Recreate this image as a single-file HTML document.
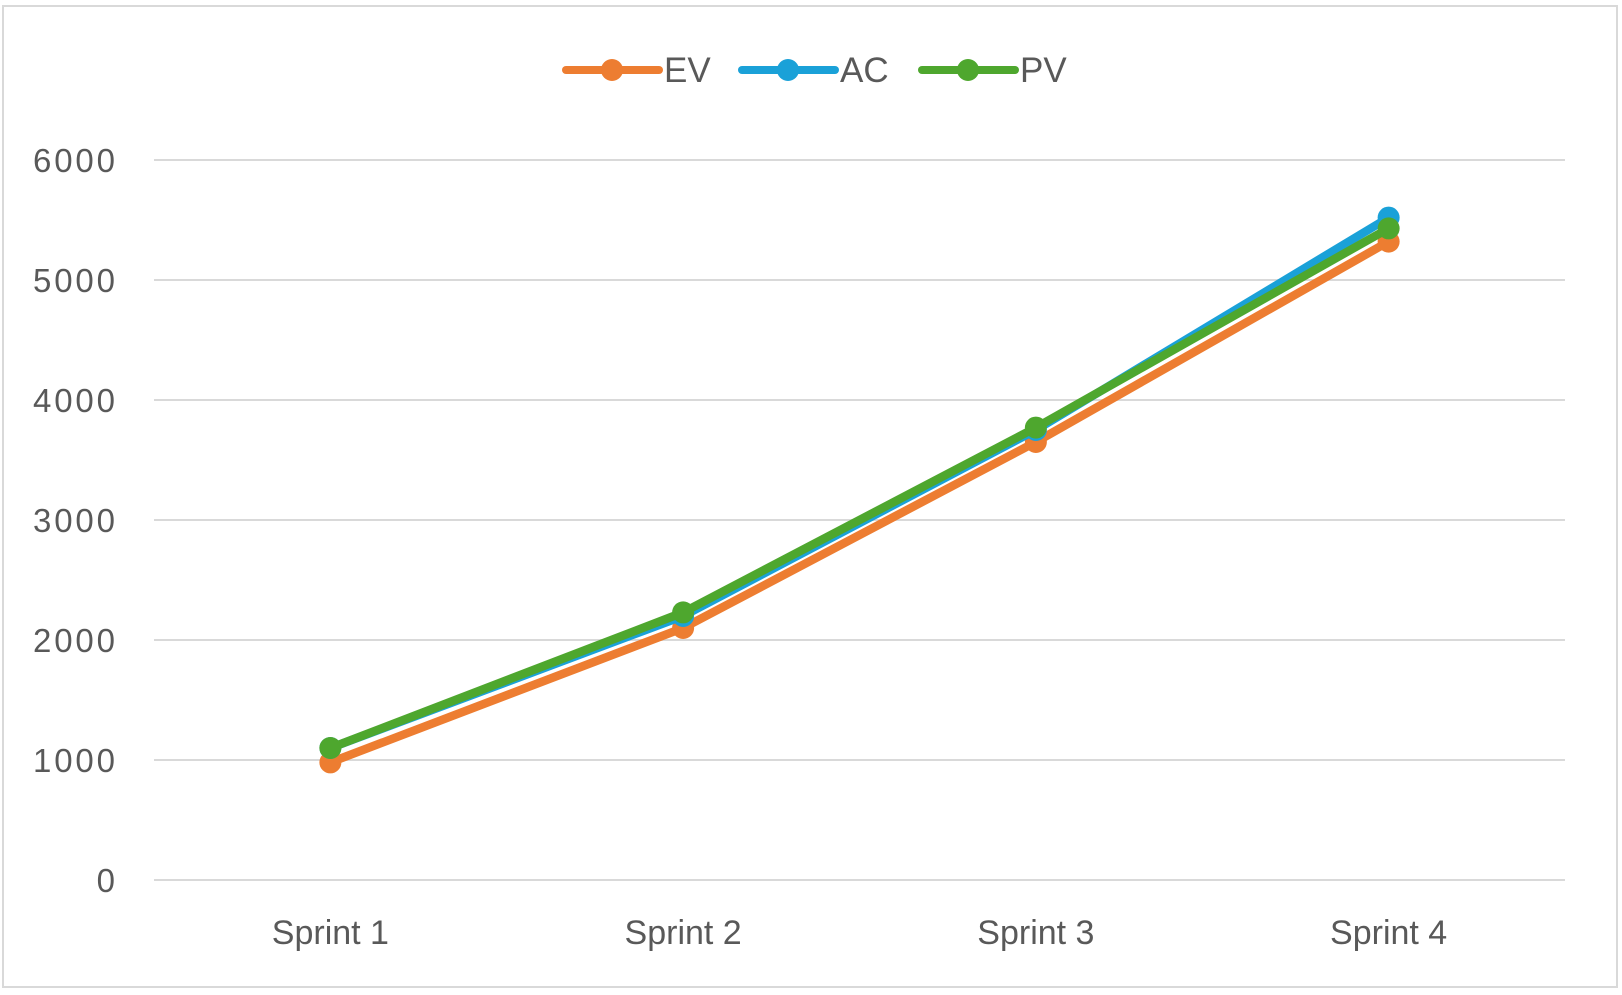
<!DOCTYPE html>
<html><head><meta charset="utf-8"><style>
html,body{margin:0;padding:0;background:#fff;}
svg text{font-family:"Liberation Sans",sans-serif;fill:#595959;}
</style></head><body>
<svg width="1622" height="990" viewBox="0 0 1622 990" xmlns="http://www.w3.org/2000/svg">
<rect x="3" y="6" width="1614" height="981" fill="#fff" stroke="#d9d9d9" stroke-width="2"/>
<g id="grid"></g><g id="ylabels"></g><g id="xlabels"></g><g id="series"></g><g id="legend"></g>
</svg>
<script>
const categories=["Sprint 1","Sprint 2","Sprint 3","Sprint 4"];
const yTicks=[0,1000,2000,3000,4000,5000,6000];
const seriesNames=["EV","AC","PV"];
const evValues=[980,2100,3650,5320];
const acValues=[1100,2200,3750,5520];
const pvValues=[1100,2230,3770,5430];
const colors=["#ed7d31","#1aa1d8","#4ea72e"];
const NS="http://www.w3.org/2000/svg";
const L=154,R=1565,T=160,B=880,yMax=6000;
function y(v){return B-(v/yMax)*(B-T);}
function x(i){const w=(R-L)/categories.length;return L+w*(i+0.5);}
function mk(tag,attrs,parent){const e=document.createElementNS(NS,tag);for(const k in attrs)e.setAttribute(k,attrs[k]);parent.appendChild(e);return e;}
const grid=document.getElementById('grid'),yl=document.getElementById('ylabels'),xl=document.getElementById('xlabels'),sg=document.getElementById('series'),lg=document.getElementById('legend');
yTicks.forEach(t=>{
 const l=mk('line',{x1:L,x2:R,y1:y(t),y2:y(t),stroke:'#d9d9d9','stroke-width':2},grid);
 
 
 const tx=mk('text',{x:115,y:y(t)+12,'text-anchor':'end','font-size':33,'textLength':t===0?undefined:82},yl);tx.textContent=t;
 if(t===0)tx.removeAttribute('textLength');
 
 
});
categories.forEach((c,i)=>{
 const tx=mk('text',{x:x(i),y:944,'text-anchor':'middle','font-size':34},xl);tx.textContent=c;
 
 
});
const allVals=[evValues,acValues,pvValues];
allVals.forEach((vals,s)=>{
 const g=mk('g',{},sg);
 
 
 const pts=vals.map((v,i)=>x(i)+','+y(v)).join(' ');
 const pl=mk('polyline',{points:pts,fill:'none',stroke:colors[s],'stroke-width':8.5,'stroke-linejoin':'round','stroke-linecap':'round'},g);
 
 
 vals.forEach((v,i)=>{
  const c=mk('circle',{cx:x(i),cy:y(v),r:11,fill:colors[s]},g);
  
  
 });
});
const legX=[566,742,922];
seriesNames.forEach((n,s)=>{
 const g=mk('g',{},lg);
 
 
 const x0=legX[s];
 mk('line',{x1:x0,x2:x0+93,y1:70,y2:70,stroke:colors[s],'stroke-width':8,'stroke-linecap':'round'},g);
 mk('circle',{cx:x0+46,cy:70,r:11,fill:colors[s]},g);
 const t=mk('text',{x:x0+98,y:82,'font-size':35},g);t.textContent=n;
});
</script>
</body></html>
